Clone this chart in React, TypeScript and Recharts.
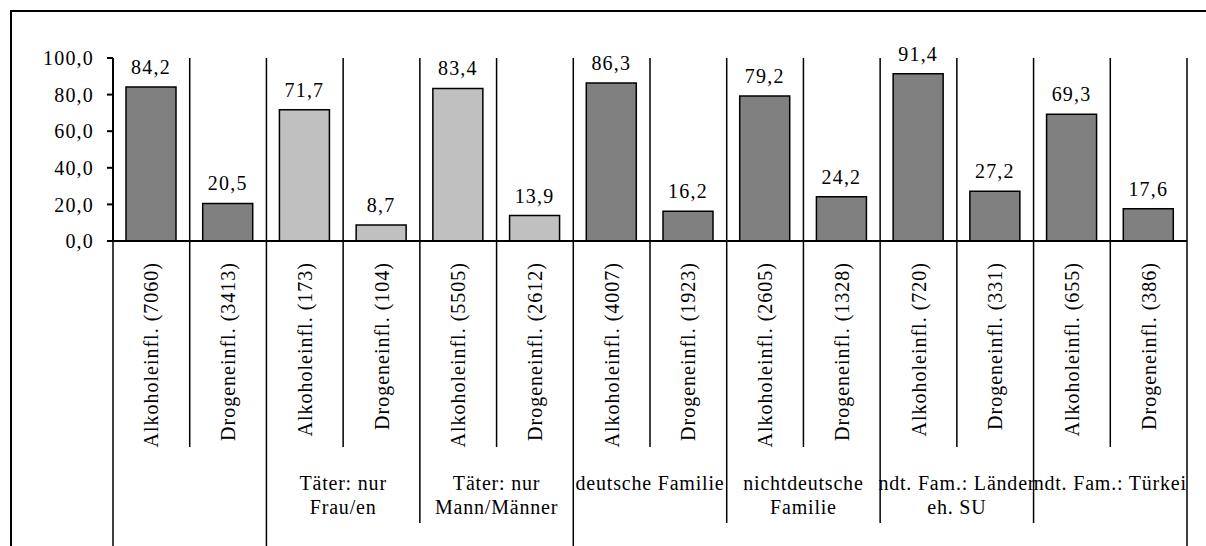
import React from 'react';
import { BarChart, Bar, XAxis, YAxis, CartesianGrid, Cell, LabelList } from 'recharts';

const categories = [
  'Alkoholeinfl. (7060)',
  'Drogeneinfl. (3413)',
  'Alkoholeinfl. (173)',
  'Drogeneinfl. (104)',
  'Alkoholeinfl. (5505)',
  'Drogeneinfl. (2612)',
  'Alkoholeinfl. (4007)',
  'Drogeneinfl. (1923)',
  'Alkoholeinfl. (2605)',
  'Drogeneinfl. (1328)',
  'Alkoholeinfl. (720)',
  'Drogeneinfl. (331)',
  'Alkoholeinfl. (655)',
  'Drogeneinfl. (386)',
];

const values = [84.2, 20.5, 71.7, 8.7, 83.4, 13.9, 86.3, 16.2, 79.2, 24.2, 91.4, 27.2, 69.3, 17.6];

// second-level labels, one per pair of categories
const groupLabels = [
  [],
  ['Täter: nur', 'Frau/en'],
  ['Täter: nur', 'Mann/Männer'],
  ['deutsche Familie'],
  ['nichtdeutsche', 'Familie'],
  ['ndt. Fam.: Länder', 'eh. SU'],
  ['ndt. Fam.: Türkei'],
];

// shade per pair
const groupShade = ['dark', 'light', 'light', 'dark', 'dark', 'dark', 'dark'];

// third-level groups (sizes in categories)
const topGroupSizes = [2, 4, 8];

const yTicks = [0, 20, 40, 60, 80, 100];

const FONT = "'Liberation Serif', 'Times New Roman', serif";
const FILLS: Record<string, string> = { dark: '#808080', light: '#c0c0c0' };

const data = categories.map((name, i) => ({ name, value: values[i], pair: Math.floor(i / 2) }));

const topStarts: number[] = [0];
topGroupSizes.forEach((s) => topStarts.push(topStarts[topStarts.length - 1] + s));

const fmt = (v: number) => Number(v).toFixed(1).replace('.', ',');

const L1 = 206;
const L2 = 282;
const L3 = 320;

const textStyle: React.CSSProperties = { fontFamily: FONT, fontSize: 20, fill: '#000', letterSpacing: 1 };

function sepLen(k: number) {
  if (topStarts.includes(k)) return L3;
  if (k % 2 === 0) return L2;
  return L1;
}

function CategoryTick(props: any) {
  const { x, y, payload, width } = props;
  const n = categories.length;
  const idx = typeof props.index === 'number' ? props.index : categories.indexOf(payload.value);
  const bw = (typeof width === 'number' && width > 0 ? width : 1074) / n;
  const left = x - bw / 2;
  const right = x + bw / 2;
  const lines = idx % 2 === 0 ? groupLabels[idx / 2] : [];
  return (
    <g>
      <line x1={left} x2={left} y1={y} y2={y + sepLen(idx)} stroke="#000" strokeWidth={1.5} />
      {idx === n - 1 && (
        <line x1={right} x2={right} y1={y} y2={y + sepLen(n)} stroke="#000" strokeWidth={1.5} />
      )}
      <text
        x={x}
        y={y + 21}
        dy="0.35em"
        transform={`rotate(-90 ${x} ${y + 21})`}
        textAnchor="end"
        style={textStyle}
      >
        {payload.value}
      </text>
      {lines && lines.length > 0 && (
        <text x={right} y={y + 249} textAnchor="middle" style={{ ...textStyle, letterSpacing: 0.8 }}>
          {lines.map((t: string, j: number) => (
            <tspan key={j} x={right} dy={j === 0 ? 0 : 24}>
              {t}
            </tspan>
          ))}
        </text>
      )}
    </g>
  );
}

export default function App() {
  return (
    <div style={{ position: 'relative', width: 1206, height: 546, overflow: 'hidden', fontFamily: FONT }}>
      <style>{'html,body{margin:0;padding:0;overflow:hidden;}'}</style>
      <div
        style={{
          position: 'absolute',
          left: 10,
          top: 10,
          width: 1210,
          height: 560,
          borderTop: '2px solid #000',
          borderLeft: '2px solid #000',
          boxSizing: 'border-box',
        }}
      />
      <BarChart
        width={1198}
        height={538}
        data={data}
        margin={{ top: 50, right: 19, left: 0, bottom: 0 }}
        style={{ position: 'absolute', left: 8, top: 8, fontFamily: FONT }}
      >
        <CartesianGrid
          horizontal={false}
          vertical
          stroke="#000"
          strokeWidth={1.5}
          strokeOpacity={1}
          verticalCoordinatesGenerator={(p: any) => {
            const off = p.offset;
            return categories.map((_, k) => off.left + (off.width * (k + 1)) / categories.length);
          }}
        />
        <XAxis
          dataKey="name"
          interval={0}
          height={305}
          tickLine={false}
          tickSize={0}
          tickMargin={0}
          axisLine={{ stroke: '#000', strokeWidth: 2 }}
          tick={(p: any) => <CategoryTick {...p} />}
        />
        <YAxis
          width={105}
          domain={[0, 100]}
          ticks={yTicks}
          interval={0}
          tickFormatter={fmt}
          tickSize={6}
          tickMargin={13}
          axisLine={{ stroke: '#000', strokeWidth: 2 }}
          tickLine={{ stroke: '#000', strokeWidth: 2 }}
          tick={{ fill: '#000', fontSize: 20, style: { fontFamily: FONT, letterSpacing: 1.2 } }}
        />
        <Bar dataKey="value" barSize={50} stroke="#000" strokeWidth={1.5} isAnimationActive={false}>
          {data.map((d, i) => (
            <Cell key={i} fill={FILLS[groupShade[d.pair]]} />
          ))}
          <LabelList
            dataKey="value"
            position="top"
            offset={13}
            formatter={(v: any) => fmt(v)}
            fill="#000"
            fontSize={20}
            style={{ fontFamily: FONT, letterSpacing: 1.2 }}
          />
        </Bar>
      </BarChart>
    </div>
  );
}
